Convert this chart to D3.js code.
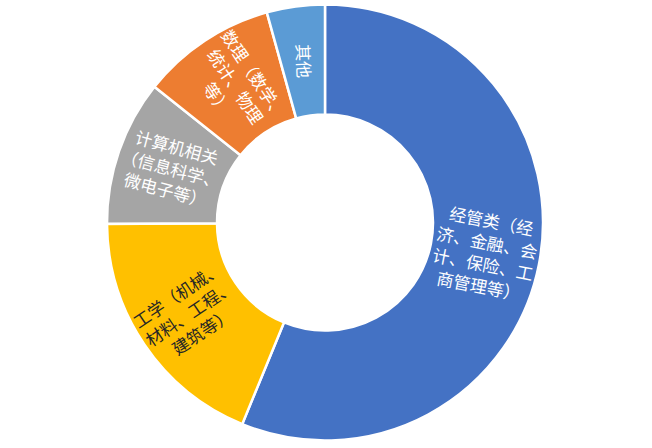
<!DOCTYPE html>
<html lang="zh-CN">
<head>
<meta charset="utf-8">
<title>专业分布</title>
<style>
  html, body { margin: 0; background: #fff; }
  svg { display: block; }
</style>
</head>
<body>
<div id="chart"></div>
<script src="https://d3js.org/d3.v7.min.js"></script>
<script>
// 各专业占比（%），顺时针从12点方向开始
var categories = ["经管类", "工学", "计算机相关", "数理", "其他"];
var values = [56.2, 18.7, 10.8, 10.0, 4.3];
var labelLines = [
  ["经管类（经", "济、金融、会", "计、保险、工", "商管理等）"],
  ["工学（机械、", "材料、工程、", "建筑等）"],
  ["计算机相关", "（信息科学、", "微电子等）"],
  ["数理（数学、", "统计、物理", "等）"],
  ["其他"]
];

var colors = ["#4472C4", "#FFC000", "#A5A5A5", "#ED7D31", "#5B9BD5"];
var textColors = ["#ffffff", "#262626", "#ffffff", "#ffffff", "#ffffff"];

var width = 652, height = 448;
var cx = 325, cy = 222.5;
var outerR = 218, innerR = 108;
var lineH = 22;

var svg = d3.select("#chart")
  .append("svg")
  .attr("width", width)
  .attr("height", height);

var g = svg.append("g")
  .attr("transform", "translate(" + cx + "," + cy + ")");

var rows = categories.map(function(c, i) {
  return { name: c, value: values[i], lines: labelLines[i], i: i };
});

var pie = d3.pie()
  .sort(null)
  .value(function(d) { return d.value; });

var arc = d3.arc()
  .innerRadius(innerR)
  .outerRadius(outerR);

var labelArc = d3.arc()
  .innerRadius((innerR + outerR) / 2)
  .outerRadius((innerR + outerR) / 2);

var arcs = pie(rows);

//扇区
g.selectAll("path")
  .data(arcs)
  .enter()
  .append("path")
  .attr("d", arc)
  .attr("fill", function(d) { return colors[d.data.i]; })
  .attr("stroke", "#fff")
  .attr("stroke-width", 2.5);

//标签，沿扇区方向旋转
var label = g.selectAll("g.label")
  .data(arcs)
  .enter()
  .append("g")
  .attr("class", "label")
  .attr("transform", function(d) {
    var p = labelArc.centroid(d);
    var mid = (d.startAngle + d.endAngle) / 2 * 180 / Math.PI;
    var rot = mid - 90;
    if (rot > 90) rot -= 180;
    if (d.data.name === "其他") rot = 88;
    if (d.data.name === "计算机相关") rot = 15;
    return "translate(" + p[0] + "," + p[1] + ") rotate(" + rot + ")";
  });

label.selectAll("text")
  .data(function(d) {
    var n = d.data.lines.length;
    return d.data.lines.map(function(t, k) {
      return { text: t, off: (k - (n - 1) / 2) * lineH, i: d.data.i };
    });
  })
  .enter()
  .append("text")
  .attr("text-anchor", "middle")
  .attr("y", function(d) { return d.off; })
  .attr("dy", "0.36em")
  .attr("font-family", "'Noto Sans CJK SC', 'Noto Sans', sans-serif")
  .attr("font-size", 17)
  .attr("fill", function(d) { return textColors[d.i]; })
  .text(function(d) { return d.text; });
</script>
</body>
</html>
